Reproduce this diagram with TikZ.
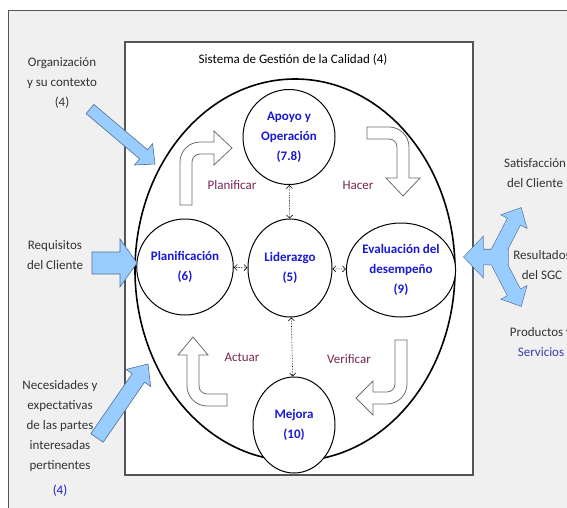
\documentclass[tikz,border=0pt]{standalone}
\usepackage{fontspec}
\setmainfont{Carlito}
\usetikzlibrary{shapes.geometric,calc,arrows.meta}
\definecolor{bgray}{RGB}{240,240,240}
\definecolor{frame}{RGB}{85,85,85}
\definecolor{bluef}{RGB}{153,204,255}
\definecolor{bluel}{RGB}{80,110,150}
\definecolor{labblue}{RGB}{25,25,210}
\definecolor{maroon}{RGB}{120,40,80}
\definecolor{servblue}{RGB}{60,60,180}
\definecolor{arrgray}{RGB}{110,110,110}
\newcommand{\blockarrow}[6][]{%
  \coordinate (ba_b) at ($(#3)!#6!(#2)$);
  \path[#1] ($(#2)!#4!90:(#3)$) -- ($(ba_b)!#4!90:(#3)$) -- ($(ba_b)!#5!90:(#3)$) -- (#3)
     -- ($(ba_b)!#5!-90:(#3)$) -- ($(ba_b)!#4!-90:(#3)$) -- ($(#2)!#4!-90:(#3)$) -- cycle;}
\begin{document}
\begin{tikzpicture}[x=1pt,y=-1pt,font=\fontsize{13}{20}\selectfont]
  \tikzstyle{etapa}=[ellipse,draw,line width=1pt,fill=white,inner sep=0pt,align=center,text=labblue,font=\fontsize{13}{20}\selectfont\bfseries]
  \tikzstyle{texto}=[align=center,text=black!80]
  \tikzstyle{ciclo}=[text=maroon]
  \tikzstyle{giro}=[draw=arrgray,fill=white,line width=0.8pt]
  \tikzstyle{enlace}=[<->,>={Straight Barb[length=3pt,width=6pt]},densely dotted,line width=0.6pt]
  \tikzstyle{entrada}=[draw=bluel,fill=bluef,line width=0.6pt]
  \tikzstyle{salidaborde}=[draw=bluel,line width=1.2pt]
  \tikzstyle{salidarelleno}=[fill=bluef]
  \useasboundingbox (0,0) rectangle (567,508);
  \clip (0,0) rectangle (567,508);
  \fill[white] (0,0) rectangle (567,508);
  \draw[fill=bgray,draw=frame,line width=0.8pt] (8,10) rectangle (600,540);
  \draw[fill=white,draw=frame,line width=1.2pt] (125,42) rectangle (473,475);
  \node (titulo) at (293,60) {Sistema de Gestión de la Calidad (4)};
  \draw[line width=1.6pt] (295,270) ellipse [x radius=160pt,y radius=191pt];

  \node[etapa,minimum width=92pt,minimum height=95pt] (C_1) at (289,137) {Apoyo y\\Operación\\(7.8)};
  \node[etapa,minimum width=84pt,minimum height=96pt] (C_2) at (185,267) {Planificación\\(6)};
  \node[etapa,minimum width=84pt,minimum height=98pt] (C_3) at (290,268) {Liderazgo\\(5)};
  \node[etapa,minimum width=96pt,minimum height=94pt] (C_4) at (401,270) {Evaluación del\\desempeño\\(9)};
  \node[etapa,minimum width=82pt,minimum height=96pt] (C_5) at (294,425) {Mejora\\(10)};
  \path[enlace] (C_2) edge (C_3)
                (C_3) edge (C_4)
                (C_1) edge (C_3)
                (C_3) edge (C_5);

  \draw[giro] (180,205) -- (180,162) .. controls (180,151) and (189,142) .. (200,142) -- (214,142) -- (214,131)
     -- (232,148) -- (214,165) -- (214,154) -- (200,154) .. controls (195.6,154) and (192,157.6) .. (192,162) -- (192,205) -- cycle;
  \draw[giro] (367,127) -- (389,127) .. controls (400,127) and (409,136) .. (409,147) -- (409,178) -- (420,178)
     -- (403,196) -- (386,178) -- (397,178) -- (397,147) .. controls (397,142.6) and (393.4,139) .. (389,139) -- (367,139) -- cycle;
  \draw[giro] (395,340) -- (407,340) -- (407,384) .. controls (407,395) and (398,404) .. (387,404) -- (373,404) -- (373,415)
     -- (356,398) -- (373,381) -- (373,392) -- (387,392) .. controls (391.4,392) and (395,388.4) .. (395,384) -- cycle;
  \draw[giro] (227,394) -- (227,406) -- (207,406) .. controls (196,406) and (187,397) .. (187,386) -- (187,355) -- (178,355)
     -- (193,337) -- (208,355) -- (199,355) -- (199,386) .. controls (199,390.4) and (202.6,394) .. (207,394) -- cycle;
  \node[ciclo] (L_1) at (232,185) {Planificar};
  \node[ciclo] (L_2) at (358,185) {Hacer};
  \node[ciclo] (L_3) at (349,359) {Verificar};
  \node[ciclo] (L_4) at (242,357) {Actuar};

  \node[texto] (E_1) at (62,83) {Organización\\y su contexto\\(4)};
  \node[texto] (E_2) at (55,255) {Requisitos\\del Cliente};
  \node[texto] (E_3) at (60,438) {Necesidades y\\expectativas\\de las partes\\interesadas\\pertinentes\\[5pt]\textcolor{labblue}{(4)}};
  \node[texto] (S_1) at (535,173) {Satisfacción\\del Cliente};
  \node[texto] (S_2) at (542,265) {Resultados\\del SGC};
  \node[texto] (S_3) at (541,342) {Productos y\\\textcolor{servblue}{Servicios}};

  \coordinate (org_a) at (90,109);  \coordinate (org_b) at (155,164);
  \coordinate (req_a) at (92,263);  \coordinate (req_b) at (137,263);
  \coordinate (nec_a) at (97,438);  \coordinate (nec_b) at (148,364);
  \blockarrow[entrada]{org_a}{org_b}{6pt}{14pt}{15pt}
  \blockarrow[entrada]{req_a}{req_b}{11pt}{24pt}{17pt}
  \blockarrow[entrada]{nec_a}{nec_b}{7.5pt}{15pt}{17pt}

  \coordinate (res_l) at (508,257); \coordinate (res_lt) at (464,257);
  \coordinate (res_u) at (494,260); \coordinate (res_ut) at (521,208);
  \coordinate (res_d) at (494,254); \coordinate (res_dt) at (521,306);
  \foreach \capa in {salidaborde,salidarelleno} {
    \blockarrow[\capa]{res_l}{res_lt}{7.5pt}{20pt}{19pt}
    \blockarrow[\capa]{res_u}{res_ut}{7pt}{14pt}{15pt}
    \blockarrow[\capa]{res_d}{res_dt}{7pt}{14pt}{15pt}
  }
\end{tikzpicture}
\end{document}
